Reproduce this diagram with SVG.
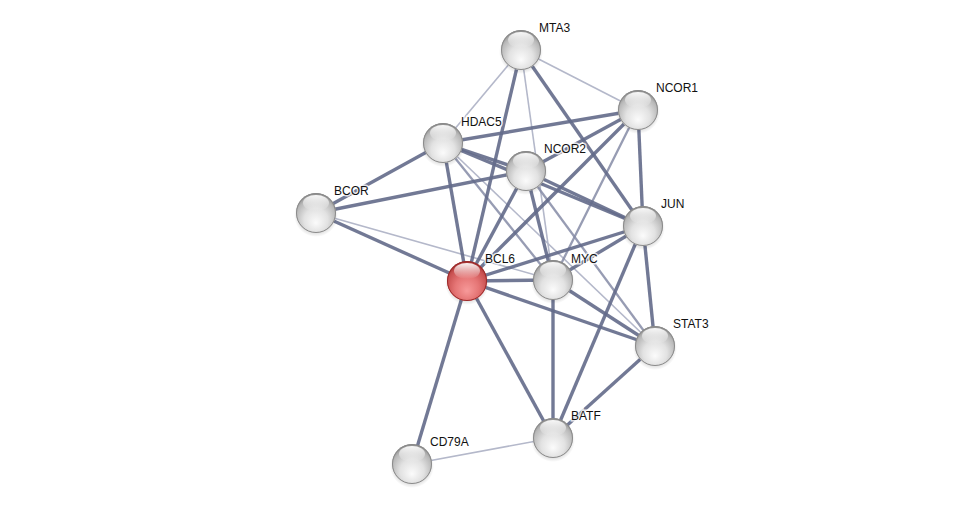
<svg xmlns="http://www.w3.org/2000/svg" width="975" height="509" viewBox="0 0 975 509">
<defs>
<style>
.e{fill:none;stroke-linecap:butt}
.t{stroke:#636a8a;stroke-width:3.4;stroke-opacity:0.9}
.m{stroke:#858ba6;stroke-width:2.3;stroke-opacity:0.85}
.l{stroke:#b4b8ca;stroke-width:1.6}
.lab{font-family:"Liberation Sans",Arial,sans-serif;font-size:12px;fill:#111;stroke:#fff;stroke-width:3;stroke-opacity:0.8;paint-order:stroke}
.ring{fill:none;stroke:#8a8a8a;stroke-width:1}
</style>
<radialGradient id="gw" cx="50%" cy="62%" r="60%" fx="50%" fy="75%">
<stop offset="0" stop-color="#fbfbfb"/>
<stop offset="0.5" stop-color="#e2e2e2"/>
<stop offset="0.85" stop-color="#b8b8b8"/>
<stop offset="1" stop-color="#8c8c8c"/>
</radialGradient>
<radialGradient id="gr" cx="50%" cy="62%" r="60%" fx="50%" fy="75%">
<stop offset="0" stop-color="#f79a9a"/>
<stop offset="0.5" stop-color="#e57575"/>
<stop offset="0.85" stop-color="#c85050"/>
<stop offset="1" stop-color="#a03030"/>
</radialGradient>
<linearGradient id="hl" x1="0" y1="0" x2="0" y2="1">
<stop offset="0" stop-color="#ffffff" stop-opacity="0.95"/>
<stop offset="1" stop-color="#ffffff" stop-opacity="0"/>
</linearGradient>
<radialGradient id="sh" cx="50%" cy="50%" r="50%">
<stop offset="0.6" stop-color="#000" stop-opacity="0.25"/>
<stop offset="1" stop-color="#000" stop-opacity="0"/>
</radialGradient>
<g id="ball">
<circle cx="0" cy="2" r="22" fill="url(#sh)"/>
<circle cx="0" cy="0" r="20" fill="url(#gw)"/>
<circle cx="0" cy="0" r="19.5" class="ring"/>
<ellipse cx="0" cy="-10" rx="13" ry="8" fill="url(#hl)"/>
</g>
<g id="ballr">
<circle cx="0" cy="2" r="22" fill="url(#sh)"/>
<circle cx="0" cy="0" r="20" fill="url(#gr)"/>
<circle cx="0" cy="0" r="19.5" fill="none" stroke="#9a2a2a" stroke-width="1"/>
<ellipse cx="0" cy="-10" rx="13" ry="8" fill="url(#hl)"/>
</g>
</defs>
<rect width="975" height="509" fill="#ffffff"/>
<g id="edges">
<line class="e l" x1="521" y1="50" x2="443" y2="143"/>
<line class="e l" x1="521" y1="50" x2="638" y2="110"/>
<line class="e l" x1="521" y1="50" x2="553" y2="280"/>
<line class="e l" x1="316" y1="213" x2="553" y2="280"/>
<line class="e l" x1="443" y1="143" x2="655" y2="346"/>
<line class="e l" x1="412" y1="464" x2="553" y2="438"/>
<line class="e m" x1="443" y1="143" x2="553" y2="280"/>
<line class="e m" x1="638" y1="110" x2="553" y2="280"/>
<line class="e m" x1="526" y1="171" x2="655" y2="346"/>
<line class="e t" x1="467" y1="281" x2="316" y2="213"/>
<line class="e t" x1="467" y1="281" x2="443" y2="143"/>
<line class="e t" x1="467" y1="281" x2="521" y2="50"/>
<line class="e t" x1="467" y1="281" x2="526" y2="171"/>
<line class="e t" x1="467" y1="281" x2="638" y2="110"/>
<line class="e t" x1="467" y1="281" x2="553" y2="280"/>
<line class="e t" x1="467" y1="281" x2="643" y2="226"/>
<line class="e t" x1="467" y1="281" x2="655" y2="346"/>
<line class="e t" x1="467" y1="281" x2="553" y2="438"/>
<line class="e t" x1="467" y1="281" x2="412" y2="464"/>
<line class="e t" x1="443" y1="143" x2="316" y2="213"/>
<line class="e t" x1="443" y1="143" x2="638" y2="110"/>
<line class="e t" x1="443" y1="143" x2="526" y2="171"/>
<line class="e t" x1="443" y1="143" x2="643" y2="226"/>
<line class="e t" x1="316" y1="213" x2="526" y2="171"/>
<line class="e t" x1="521" y1="50" x2="643" y2="226"/>
<line class="e t" x1="638" y1="110" x2="526" y2="171"/>
<line class="e t" x1="638" y1="110" x2="643" y2="226"/>
<line class="e t" x1="526" y1="171" x2="643" y2="226"/>
<line class="e t" x1="526" y1="171" x2="553" y2="280"/>
<line class="e t" x1="553" y1="280" x2="643" y2="226"/>
<line class="e t" x1="553" y1="280" x2="655" y2="346"/>
<line class="e t" x1="553" y1="280" x2="553" y2="438"/>
<line class="e t" x1="643" y1="226" x2="655" y2="346"/>
<line class="e t" x1="643" y1="226" x2="553" y2="438"/>
<line class="e t" x1="655" y1="346" x2="553" y2="438"/>
</g>
<g id="MTA3"><use href="#ball" x="521" y="50"/><text class="lab" x="539" y="32">MTA3</text></g>
<g id="NCOR1"><use href="#ball" x="638" y="110"/><text class="lab" x="656" y="92">NCOR1</text></g>
<g id="HDAC5"><use href="#ball" x="443" y="143"/><text class="lab" x="461" y="126">HDAC5</text></g>
<g id="NCOR2"><use href="#ball" x="526" y="171"/><text class="lab" x="544" y="153">NCOR2</text></g>
<g id="BCOR"><use href="#ball" x="316" y="213"/><text class="lab" x="334" y="195">BCOR</text></g>
<g id="JUN"><use href="#ball" x="643" y="226"/><text class="lab" x="661" y="208">JUN</text></g>
<g id="BCL6"><use href="#ballr" x="467" y="281"/><text class="lab" x="485" y="263">BCL6</text></g>
<g id="MYC"><use href="#ball" x="553" y="280"/><text class="lab" x="571" y="263">MYC</text></g>
<g id="STAT3"><use href="#ball" x="655" y="346"/><text class="lab" x="673" y="328">STAT3</text></g>
<g id="BATF"><use href="#ball" x="553" y="438"/><text class="lab" x="571" y="420">BATF</text></g>
<g id="CD79A"><use href="#ball" x="412" y="464"/><text class="lab" x="430" y="446">CD79A</text></g>
</svg>
